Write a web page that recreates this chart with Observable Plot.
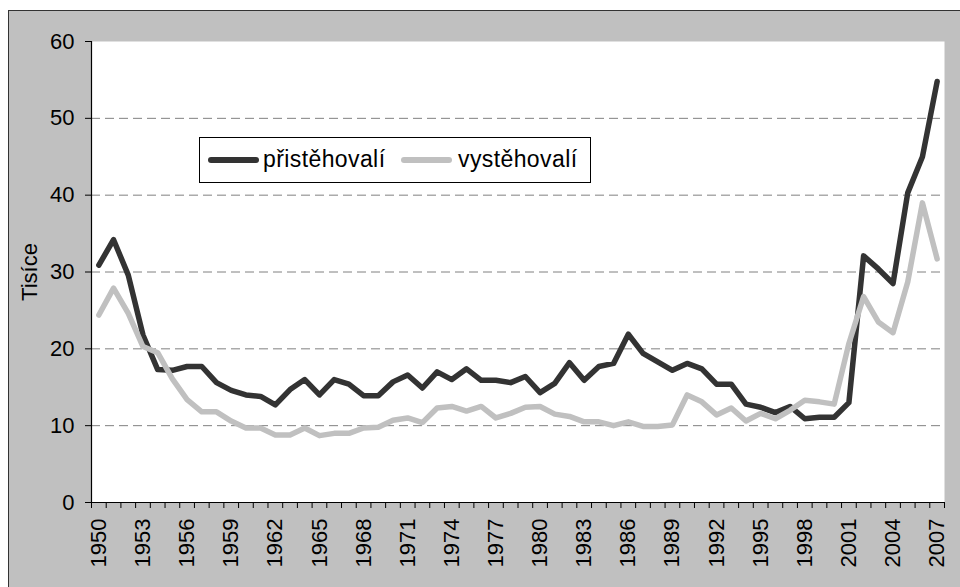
<!DOCTYPE html>
<html>
<head>
<meta charset="utf-8">
<script src="https://cdn.jsdelivr.net/npm/d3@7"></script>
<script src="https://cdn.jsdelivr.net/npm/@observablehq/plot@0.6"></script>
<style>
  html, body { margin: 0; padding: 0; background: #fff; }
  body { font-family: "Liberation Sans", Arial, sans-serif; }
  #wrap { position: relative; width: 960px; height: 587px; overflow: hidden; }
  #bg { position: absolute; left: 8px; top: 10px; width: 960px; height: 590px; background: #c0c0c0;
        border-top: 1px solid #333; border-left: 1px solid #333; box-sizing: border-box; }
  #chart { position: absolute; left: 0; top: 0; }
  #legend { position: absolute; left: 199px; top: 137px; width: 392px; height: 46px; background: #fff;
            border: 1px solid #000; box-sizing: border-box; font-size: 23px; letter-spacing: 0.4px; color: #000; }
  #legend .sw { position: absolute; top: 19px; width: 51px; height: 6px; border-radius: 3px; }
  #legend .lb { position: absolute; top: 6px; line-height: 30px; white-space: nowrap; }
</style>
</head>
<body>
<div id="wrap">
  <div id="bg"></div>
  <div id="chart"></div>
  <div id="legend"></div>
</div>
<script>
// Categories (years)
const years = [1950,1951,1952,1953,1954,1955,1956,1957,1958,1959,
               1960,1961,1962,1963,1964,1965,1966,1967,1968,1969,
               1970,1971,1972,1973,1974,1975,1976,1977,1978,1979,
               1980,1981,1982,1983,1984,1985,1986,1987,1988,1989,
               1990,1991,1992,1993,1994,1995,1996,1997,1998,1999,
               2000,2001,2002,2003,2004,2005,2006,2007];

// Series values (thousands)
const immigrants = [30.9,34.2,29.6,21.8,17.3,17.2,17.7,17.7,15.6,14.6,
                    14.0,13.8,12.7,14.7,16.0,14.0,16.0,15.4,13.9,13.9,
                    15.7,16.6,14.9,17.0,16.0,17.4,15.9,15.9,15.6,16.4,
                    14.3,15.5,18.2,15.9,17.7,18.1,21.9,19.4,18.3,17.2,
                    18.1,17.4,15.4,15.4,12.8,12.4,11.7,12.5,10.9,11.1,
                    11.1,13.0,32.1,30.4,28.5,40.3,45.0,54.8];
const emigrants  = [24.4,27.9,24.6,20.3,19.5,16.1,13.4,11.8,11.8,10.6,
                    9.7,9.7,8.8,8.8,9.7,8.7,9.0,9.0,9.7,9.8,
                    10.7,11.0,10.4,12.3,12.5,11.9,12.5,11.0,11.6,12.4,
                    12.5,11.5,11.2,10.5,10.5,10.0,10.5,9.9,9.9,10.1,
                    14.0,13.1,11.4,12.3,10.6,11.6,10.9,12.0,13.3,13.1,
                    12.8,20.7,26.8,23.5,22.1,28.7,39.0,31.7];

const seriesNames = ["přistěhovalí", "vystěhovalí"];
const seriesColors = ["#333333", "#c0c0c0"];

// Tick labels
const xTickLabels = [1950,1953,1956,1959,1962,1965,1968,1971,1974,1977,1980,1983,1986,1989,1992,1995,1998,2001,2004,2007];
const yTicks = [0,10,20,30,40,50,60];
const yGrid = [10,20,30,40,50];
const yLabel = "Tisíce";

const rows = [];
years.forEach((yr, i) => {
  rows.push({year: yr, value: immigrants[i], series: seriesNames[0]});
});
years.forEach((yr, i) => {
  rows.push({year: yr, value: emigrants[i], series: seriesNames[1]});
});
const bounds = years.map(y => y - 0.5).concat([years[years.length - 1] + 0.5]);

const FS = 22;
const chart = Plot.plot({
  width: 960,
  height: 587,
  marginLeft: 91,
  marginRight: 16,
  marginTop: 41,
  marginBottom: 85,
  style: {background: "transparent", fontFamily: "'Liberation Sans', Arial, sans-serif", fontSize: FS + "px", color: "#000"},
  x: {domain: [bounds[0], bounds[bounds.length - 1]]},
  y: {domain: [yTicks[0], yTicks[yTicks.length - 1]]},
  color: {domain: seriesNames, range: seriesColors},
  marks: [
    Plot.frame({fill: "white", stroke: "none"}),
    Plot.gridY(yGrid, {stroke: "#808080", strokeOpacity: 1, strokeDasharray: "9,5"}),
    Plot.axisY(yTicks, {tickSize: 6, tickPadding: 11, tickFormat: d => String(d), stroke: "#000", fontSize: FS,
                        label: yLabel, labelAnchor: "center", labelOffset: 70, labelArrow: "none"}),
    Plot.axisX(bounds, {tickSize: 6, tickFormat: () => "", label: null, stroke: "#000"}),
    Plot.axisX(xTickLabels, {tickSize: 0, tickPadding: 16, tickRotate: -90, tickFormat: d => String(d), label: null, fontSize: FS}),
    Plot.ruleX([bounds[0]], {stroke: "#000", strokeWidth: 1.2}),
    Plot.ruleY([yTicks[0]], {stroke: "#000", strokeWidth: 1.2}),
    Plot.line(rows, {x: "year", y: "value", z: "series", stroke: "series", strokeWidth: 5.5,
                     strokeLinejoin: "round", strokeLinecap: "round"})
  ]
});
document.getElementById("chart").appendChild(chart);

// Legend (HTML overlay)
const legend = document.getElementById("legend");
const legendPos = [{sw: 8, lb: 63}, {sw: 201, lb: 258}];
seriesNames.forEach((name, i) => {
  const sw = document.createElement("div");
  sw.className = "sw";
  sw.style.left = legendPos[i].sw + "px";
  sw.style.background = seriesColors[i];
  legend.appendChild(sw);
  const lb = document.createElement("div");
  lb.className = "lb";
  lb.style.left = legendPos[i].lb + "px";
  lb.textContent = name;
  legend.appendChild(lb);
});
</script>
</body>
</html>
